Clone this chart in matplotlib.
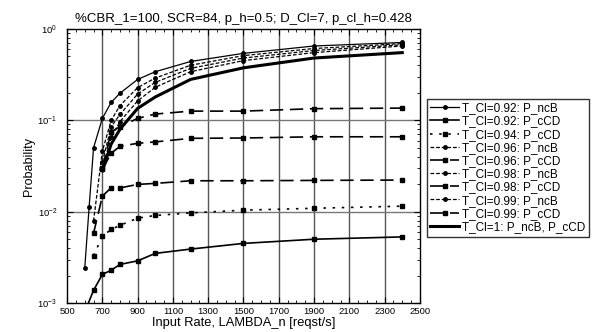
import matplotlib
matplotlib.use('Agg')
import matplotlib.pyplot as plt
from matplotlib.ticker import LogLocator, MultipleLocator, NullFormatter

plt.rcParams['font.family'] = ['Liberation Sans', 'DejaVu Sans']

# input rates [reqst/s]
x_092_ncB = [600, 625, 650, 700, 750, 800, 900, 1000, 1200, 1500, 1900, 2400]
p_092_ncB = [0.0024, 0.0113, 0.050, 0.105, 0.157, 0.198, 0.28, 0.34, 0.44, 0.54, 0.65, 0.71]

x_092_cCD = [600, 650, 700, 750, 800, 900, 1000, 1200, 1500, 1900, 2400]
p_092_cCD = [0.0008, 0.00138, 0.00206, 0.00229, 0.00265, 0.0029, 0.0035, 0.0039, 0.0045, 0.0050, 0.0053]

x_094_cCD = [650, 700, 750, 800, 900, 1000, 1200, 1500, 1900, 2400]
p_094_cCD = [0.0033, 0.0054, 0.0064, 0.0071, 0.0085, 0.0091, 0.0097, 0.0104, 0.0109, 0.0115]

x_096_ncB = [650, 700, 750, 800, 900, 1000, 1200, 1500, 1900, 2400]
p_096_ncB = [0.0079, 0.046, 0.10, 0.145, 0.228, 0.29, 0.40, 0.51, 0.61, 0.69]

x_096_cCD = [650, 700, 750, 800, 900, 1000, 1200, 1500, 1900, 2400]
p_096_cCD = [0.0058, 0.0148, 0.0183, 0.0182, 0.0199, 0.0204, 0.0218, 0.0218, 0.0220, 0.0222]

x_098_ncB = [700, 750, 800, 900, 1000, 1200, 1500, 1900, 2400]
p_098_ncB = [0.035, 0.085, 0.116, 0.194, 0.26, 0.37, 0.48, 0.58, 0.67]

x_098_cCD = [700, 750, 800, 900, 1000, 1200, 1500, 1900, 2400]
p_098_cCD = [0.029, 0.0436, 0.052, 0.056, 0.058, 0.0635, 0.064, 0.066, 0.066]

x_099_ncB = [700, 750, 800, 900, 1000, 1200, 1500, 1900, 2400]
p_099_ncB = [0.030, 0.065, 0.097, 0.163, 0.23, 0.34, 0.45, 0.55, 0.65]

x_099_cCD = [700, 750, 800, 900, 1000, 1200, 1500, 1900, 2400]
p_099_cCD = [0.030, 0.075, 0.085, 0.105, 0.117, 0.126, 0.126, 0.134, 0.136]

x_1 = [700, 750, 800, 900, 1000, 1200, 1500, 1900, 2400]
p_1 = [0.028, 0.055, 0.08, 0.135, 0.18, 0.28, 0.375, 0.48, 0.55]

x_ticks = list(range(500, 2501, 200))

fig = plt.figure(figsize=(5.99, 3.32), dpi=100)
ax = fig.add_axes([0.112, 0.087, 0.589, 0.826])

k = 'black'
ax.plot(x_092_ncB, p_092_ncB, '-', color=k, lw=0.9, marker='o', ms=2.5, label='T_Cl=0.92: P_ncB')
ax.plot(x_092_cCD, p_092_cCD, '-', color=k, lw=1.2, marker='s', ms=3.5, label='T_Cl=0.92: P_cCD')
ax.plot(x_094_cCD, p_094_cCD, color=k, lw=1.2, dashes=(1.5, 4), marker='s', ms=3.5, label='T_Cl=0.94: P_cCD')
ax.plot(x_096_ncB, p_096_ncB, color=k, lw=0.9, dashes=(3, 1.5), marker='o', ms=2.5, label='T_Cl=0.96: P_ncB')
ax.plot(x_096_cCD, p_096_cCD, color=k, lw=1.2, dashes=(8, 4), marker='s', ms=3.5, label='T_Cl=0.96: P_cCD')
ax.plot(x_098_ncB, p_098_ncB, color=k, lw=0.9, dashes=(3, 1.5), marker='o', ms=2.5, label='T_Cl=0.98: P_ncB')
ax.plot(x_098_cCD, p_098_cCD, color=k, lw=1.2, dashes=(8, 4), marker='s', ms=3.5, label='T_Cl=0.98: P_cCD')
ax.plot(x_099_ncB, p_099_ncB, color=k, lw=0.9, dashes=(3, 1.5), marker='o', ms=2.5, label='T_Cl=0.99: P_ncB')
ax.plot(x_099_cCD, p_099_cCD, color=k, lw=1.2, dashes=(8, 4), marker='s', ms=3.5, label='T_Cl=0.99: P_cCD')
ax.plot(x_1, p_1, '-', color=k, lw=2.2, label='T_Cl=1: P_ncB, P_cCD')

ax.set_yscale('log')
ax.set_xlim(500, 2500)
ax.set_ylim(1e-3, 1)
ax.set_xticks(x_ticks)
ax.xaxis.set_minor_locator(MultipleLocator(50))
ax.yaxis.set_major_locator(LogLocator(base=10, numticks=10))
ax.yaxis.set_minor_locator(LogLocator(base=10, subs=range(2, 10), numticks=10))
ax.yaxis.set_minor_formatter(NullFormatter())

for xv in x_ticks[1:-1]:
    ax.axvline(xv, color='#555555', lw=1.0, zorder=0)
for yv in [1e-1, 1e-2]:
    ax.axhline(yv, color='#777777', lw=1.0, zorder=0)

ax.tick_params(which='both', direction='in', top=True, right=True, labelsize=6.8)
ax.tick_params(axis='x', pad=3)
ax.tick_params(axis='y', pad=7)
ax.tick_params(which='major', length=4)
ax.tick_params(which='minor', length=2)
for s in ax.spines.values():
    s.set_linewidth(1.0)

ax.set_title('%CBR_1=100, SCR=84, p_h=0.5; D_Cl=7, p_cl_h=0.428', fontsize=9.5, pad=5)
ax.set_xlabel('Input Rate, LAMBDA_n [reqst/s]', fontsize=9.3, labelpad=0.5)
ax.set_ylabel('Probability', fontsize=9, labelpad=2)

leg = ax.legend(loc='upper left', bbox_to_anchor=(1.02, 0.745), fontsize=8.5,
                frameon=True, fancybox=False, edgecolor='#333333', framealpha=1,
                handlelength=2.4, labelspacing=0.1, borderpad=0.3, handletextpad=0.3,
                borderaxespad=0)
leg.get_frame().set_linewidth(1.0)

fig.savefig('out.png', dpi=100)
